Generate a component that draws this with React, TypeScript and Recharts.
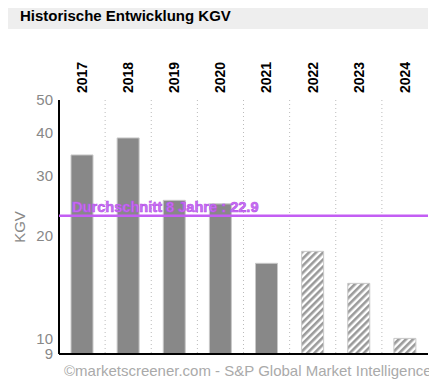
import { Bar, BarChart, CartesianGrid, Cell, ReferenceLine, XAxis, YAxis } from "recharts";

const years = ["2017", "2018", "2019", "2020", "2021", "2022", "2023", "2024"];
const kgv = [34.5, 38.7, 25.4, 24.8, 16.6, 18.0, 14.5, 10.0];
// 2022+ are estimates (hatched)
const estimated = [false, false, false, false, false, true, true, true];
const yTicks = [9, 10, 20, 30, 40, 50];
const average = 22.9;

const data = years.map((year, i) => ({ year, kgv: kgv[i], est: estimated[i] }));

const FONT = "'Liberation Sans', Arial, sans-serif";
const W = 421;
const H = 370;
const MARGIN = { top: 0, right: 1, bottom: 16, left: 0 };

function YearTick(props: any) {
	const { x, y, payload } = props;
	return (
		<text
			transform={`rotate(-90, ${x}, ${y})`}
			x={x}
			y={y}
			dy="0.35em"
			textAnchor="start"
			fontSize={14}
			fontWeight="bold"
			fontFamily={FONT}
			fill="#000"
		>
			{payload.value}
		</text>
	);
}

function AvgLabel(props: any) {
	const { viewBox } = props;
	return (
		<text
			x={viewBox.x + 13}
			y={viewBox.y - 4}
			fontSize={14.6}
			fontWeight="bold"
			fontFamily={FONT}
			fill="#c673f3"
			stroke="#b84fe8"
			strokeWidth={0.6}
		>
			{`Durchschnitt 8 Jahre : ${average}`}
		</text>
	);
}

function KgvLabel(props: any) {
	const { viewBox } = props;
	const x = viewBox.x + 12;
	const y = viewBox.y + viewBox.height / 2;
	return (
		<text
			transform={`rotate(-90, ${x}, ${y})`}
			x={x}
			y={y}
			dy="0.35em"
			textAnchor="middle"
			fontSize={15}
			fontFamily={FONT}
			fill="#888"
		>
			KGV
		</text>
	);
}

export default function App() {
	return (
		<div style={{ position: "relative", top: -8, width: 421, height: 385, fontFamily: FONT }}>
			<div
				style={{
					position: "absolute",
					left: 0,
					top: 0,
					width: 420,
					height: 29,
					background: "#eeeeee",
					zIndex: 1,
				}}
			>
				<div
					style={{
						paddingTop: 7,
						paddingLeft: 12,
						fontSize: 15,
						lineHeight: "17px",
						fontWeight: "bold",
						color: "#000",
					}}
				>
					Historische Entwicklung KGV
				</div>
			</div>
			<div style={{ position: "absolute", left: 0, top: 0 }}>
				<BarChart width={W} height={H} data={data} margin={MARGIN} barSize={22}>
					<defs>
						<pattern
							id="hatch"
							patternUnits="userSpaceOnUse"
							width={5}
							height={5}
							patternTransform="rotate(45)"
						>
							<rect x={0} y={0} width={5} height={5} fill="#ffffff" />
							<rect x={0} y={0} width={2.6} height={5} fill="#9a9a9a" />
						</pattern>
					</defs>
					<CartesianGrid
						horizontal={false}
						stroke="#bbbbbb"
						strokeDasharray="1 3"
						verticalCoordinatesGenerator={({ offset }: any) =>
							years.slice(1).map((_, i) => offset.left + ((i + 1) * offset.width) / years.length)
						}
					/>
					<XAxis
						dataKey="year"
						orientation="top"
						height={100}
						axisLine={false}
						tickLine={false}
						tickSize={0}
						tickMargin={7}
						interval={0}
						tick={<YearTick />}
					/>
					<YAxis
						scale="log"
						domain={[9, 50]}
						allowDataOverflow
						ticks={yTicks}
						interval={0}
						width={51}
						tickSize={0}
						tickMargin={6}
						axisLine={{ stroke: "#000", strokeWidth: 2 }}
						tickLine={false}
						tick={{ fill: "#888", fontSize: 15, fontFamily: FONT }}
						label={<KgvLabel />}
					/>
					<Bar dataKey="kgv" isAnimationActive={false} stroke="#c8c8c8" strokeWidth={1}>
						{data.map((d) => (
							<Cell key={d.year} fill={d.est ? "url(#hatch)" : "#888888"} />
						))}
					</Bar>
					<ReferenceLine y={9} stroke="#000" strokeWidth={2} />
				</BarChart>
			</div>
			{/* overlay so the average line + its label sit above the bars */}
			<div style={{ position: "absolute", left: 0, top: 0, pointerEvents: "none" }}>
				<BarChart width={W} height={H} data={data} margin={MARGIN}>
					<XAxis dataKey="year" orientation="top" height={100} axisLine={false} tickLine={false} tick={false} />
					<YAxis
						scale="log"
						domain={[9, 50]}
						allowDataOverflow
						ticks={yTicks}
						width={51}
						axisLine={false}
						tickLine={false}
						tick={false}
					/>
					<ReferenceLine y={average} stroke="#c35ef4" strokeWidth={2.5} label={<AvgLabel />} />
				</BarChart>
			</div>
			<div
				style={{
					position: "absolute",
					left: 56,
					top: 362,
					fontSize: 15,
					lineHeight: "17px",
					color: "#aaaaaa",
					whiteSpace: "nowrap",
				}}
			>
				©marketscreener.com - S&amp;P Global Market Intelligence
			</div>
		</div>
	);
}
